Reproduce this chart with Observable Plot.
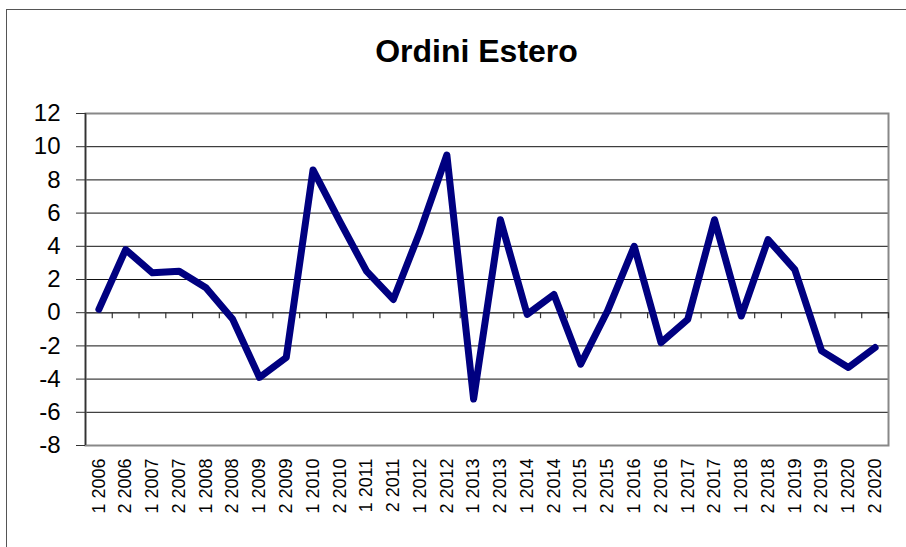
<!DOCTYPE html>
<html>
<head>
<meta charset="utf-8">
<script src="https://cdn.jsdelivr.net/npm/d3@7"></script>
<script src="https://cdn.jsdelivr.net/npm/@observablehq/plot@0.6"></script>
<style>
  body { margin: 0; background: #fff; }
  #wrap { position: relative; width: 906px; height: 547px; overflow: hidden; background: #fff; font-family: "Liberation Sans", Arial, sans-serif; }
  #title { position: absolute; left: 0; top: 36px; width: 953px; text-align: center; font-weight: bold; font-size: 32px; line-height: 31px; color: #000; }
  #chart { position: absolute; left: 0; top: 95px; }
  #frame { position: absolute; left: 6px; top: 9px; width: 2000px; height: 2000px; border: 1.5px solid #555; pointer-events: none; }
</style>
</head>
<body>
<div id="wrap">
  <div id="title">Ordini Estero</div>
  <div id="chart"></div>
  <div id="frame"></div>
</div>
<script>
const labels = [
  "1 2006","2 2006","1 2007","2 2007","1 2008","2 2008","1 2009","2 2009","1 2010","2 2010",
  "1 2011","2 2011","1 2012","2 2012","1 2013","2 2013","1 2014","2 2014","1 2015","2 2015",
  "1 2016","2 2016","1 2017","2 2017","1 2018","2 2018","1 2019","2 2019","1 2020","2 2020"
];
const values = [
  0.2, 3.8, 2.4, 2.5, 1.5, -0.4, -3.9, -2.7, 8.6, 5.5,
  2.5, 0.8, 4.9, 9.5, -5.2, 5.6, -0.1, 1.1, -3.1, 0.1,
  4.0, -1.8, -0.4, 5.6, -0.2, 4.4, 2.6, -2.3, -3.3, -2.1
];
const yTicks = [-8, -6, -4, -2, 0, 2, 4, 6, 8, 10, 12];

const data = labels.map((label, i) => ({i, label, value: values[i]}));
const idx = d3.range(labels.length);
const bounds = idx.map(i => i + 0.5);

const chart = Plot.plot({
  width: 906,
  height: 452,
  marginTop: 18,
  marginBottom: 102,
  marginLeft: 85,
  marginRight: 18,
  style: {fontFamily: "'Liberation Sans', Arial, sans-serif", background: "transparent", color: "#000", overflow: "visible"},
  x: {type: "linear", domain: [-0.5, labels.length - 0.5], label: null},
  y: {domain: [-8, 12], label: null},
  marks: [
    Plot.ruleY(yTicks, {stroke: "#111", strokeWidth: 1}),
    Plot.frame({stroke: "#888", strokeWidth: 2}),
    Plot.ruleX([-0.5], {stroke: "#333", strokeWidth: 1.5}),
    Plot.ruleY([0], {stroke: "#444", strokeWidth: 1.5}),
    Plot.ruleX(bounds, {x: d => d, y1: () => 0, y2: () => 0, insetBottom: -6, stroke: "#333", strokeWidth: 1.2}),
    Plot.axisY(yTicks, {label: null, tickSize: 9, tickPadding: 16, fontSize: 24, stroke: "#333", tickFormat: d => String(d)}),
    Plot.axisX(idx, {label: null, anchor: "bottom", tickSize: 0, tickPadding: 13, tickRotate: -90, fontSize: 18, tickFormat: i => labels[i]}),
    Plot.line(data, {x: "i", y: "value", stroke: "#000080", strokeWidth: 7, strokeLinejoin: "round", strokeLinecap: "round"})
  ]
});
document.getElementById("chart").appendChild(chart);
</script>
</body>
</html>
